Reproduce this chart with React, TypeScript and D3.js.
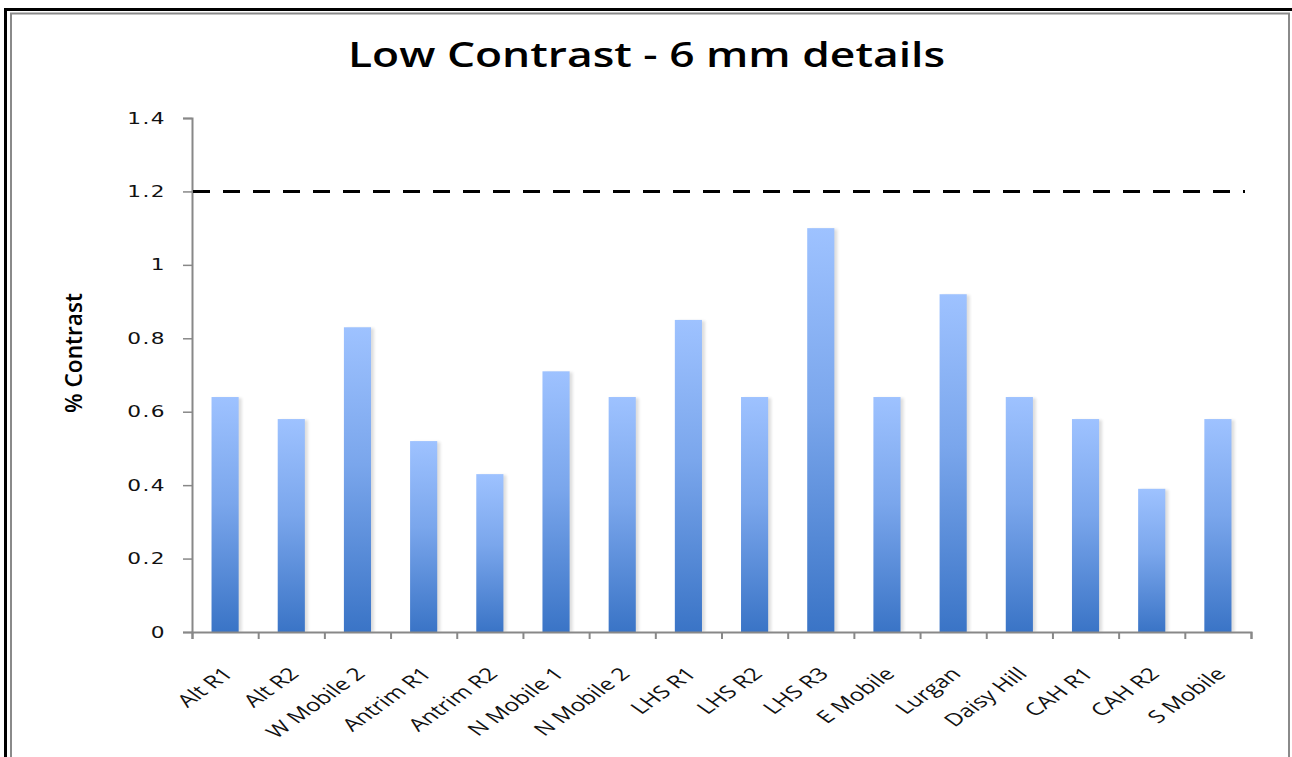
import React, { useEffect, useRef } from "react";
import * as d3 from "d3";

// Sites measured and their low-contrast (6 mm detail) results
const categories: string[] = [
  "Alt R1",
  "Alt R2",
  "W Mobile 2",
  "Antrim R1",
  "Antrim R2",
  "N Mobile 1",
  "N Mobile 2",
  "LHS R1",
  "LHS R2",
  "LHS R3",
  "E Mobile",
  "Lurgan",
  "Daisy Hill",
  "CAH R1",
  "CAH R2",
  "S Mobile",
];

const contrastValues: number[] = [
  0.64, 0.58, 0.83, 0.52, 0.43, 0.71, 0.64, 0.85, 0.64, 1.1, 0.64, 0.92, 0.64, 0.58, 0.39, 0.58,
];

const yTickValues: number[] = [0, 0.2, 0.4, 0.6, 0.8, 1, 1.2, 1.4];
const yTickLabels: string[] = ["0", "0.2", "0.4", "0.6", "0.8", "1", "1.2", "1.4"];

// Tolerance level drawn as a dashed reference line
const thresholdValue = 1.2;

const titleText = "Low Contrast - 6 mm details";
const yAxisTitle = "% Contrast";

const W = 1292;
const H = 757;
const plot = { left: 192, right: 1251, top: 118, bottom: 632 };
const stretchX = 1.4;

export default function App() {
  const ref = useRef<SVGSVGElement | null>(null);

  useEffect(() => {
    const svg = d3.select(ref.current);
    svg.selectAll("*").remove();

    const x = d3
      .scaleBand<string>()
      .domain(categories)
      .range([plot.left, plot.right])
      .paddingInner(0.59)
      .paddingOuter(0.295);
    const y = d3.scaleLinear().domain([0, 1.4]).range([plot.bottom, plot.top]);

    const defs = svg.append("defs");
    const grad = defs
      .append("linearGradient")
      .attr("id", "barGrad")
      .attr("x1", 0)
      .attr("y1", 0)
      .attr("x2", 0)
      .attr("y2", 1);
    grad.append("stop").attr("offset", "0%").attr("stop-color", "#9ec2ff");
    grad.append("stop").attr("offset", "45%").attr("stop-color", "#7aa6ec");
    grad.append("stop").attr("offset", "100%").attr("stop-color", "#3a74c6");

    const blur = defs.append("filter").attr("id", "soft").attr("x", "-50%").attr("y", "-50%").attr("width", "200%").attr("height", "200%");
    blur.append("feGaussianBlur").attr("stdDeviation", 1.4);

    // Frame
    svg.append("rect").attr("x", 0).attr("y", 0).attr("width", W).attr("height", H).attr("fill", "#ffffff");
    svg
      .append("path")
      .attr("d", `M5.5,${H} V9.5 H${W}`)
      .attr("fill", "none")
      .attr("stroke", "#000")
      .attr("stroke-width", 3);
    svg
      .append("path")
      .attr("d", `M11,${H} V13.5 H1289 V${H}`)
      .attr("fill", "none")
      .attr("stroke", "#8a8a8a")
      .attr("stroke-width", 2);

    // Title
    svg
      .append("text")
      .attr("x", 646.5)
      .attr("y", 67)
      .attr("text-anchor", "middle")
      .attr("font-family", "'Open Sans', Lato, sans-serif")
      .attr("font-weight", 600)
      .attr("font-size", 34)
      .attr("textLength", 597)
      .attr("lengthAdjust", "spacingAndGlyphs")
      .attr("fill", "#000")
      .text(titleText);

    // Y axis title
    svg
      .append("text")
      .attr("transform", `translate(82,353) scale(1.25,1) rotate(-90)`)
      .attr("text-anchor", "middle")
      .attr("font-family", "'Open Sans', Lato, sans-serif")
      .attr("font-weight", 600)
      .attr("font-size", 18)
      .attr("textLength", 120)
      .attr("lengthAdjust", "spacingAndGlyphs")
      .attr("fill", "#000")
      .text(yAxisTitle);

    // Bar shadows
    const g = svg.append("g");
    g.selectAll("rect.shadow")
      .data(contrastValues)
      .join("rect")
      .attr("class", "shadow")
      .attr("x", (_, i) => (x(categories[i]) as number) + 3)
      .attr("y", (d) => y(d) + 1)
      .attr("width", x.bandwidth())
      .attr("height", (d) => plot.bottom - y(d) - 1)
      .attr("fill", "#000")
      .attr("opacity", 0.13)
      .attr("filter", "url(#soft)");

    // Bars
    g.selectAll("rect.bar")
      .data(contrastValues)
      .join("rect")
      .attr("class", "bar")
      .attr("x", (_, i) => x(categories[i]) as number)
      .attr("y", (d) => y(d))
      .attr("width", x.bandwidth())
      .attr("height", (d) => plot.bottom - y(d))
      .attr("fill", "url(#barGrad)");

    // Y axis
    const yAxis = d3
      .axisLeft(y)
      .tickValues(yTickValues)
      .tickSize(9)
      .tickPadding(0)
      .tickFormat(() => "");
    const yg = svg.append("g").attr("transform", `translate(${plot.left},0)`).call(yAxis);
    yg.select(".domain").attr("stroke", "#888").attr("stroke-width", 2);
    yg.selectAll(".tick line").attr("stroke", "#888").attr("stroke-width", 1.5);

    svg
      .append("g")
      .selectAll("text")
      .data(yTickValues)
      .join("text")
      .attr("transform", (d) => `translate(166,${y(d)}) scale(${stretchX},1)`)
      .attr("dy", "0.36em")
      .attr("text-anchor", "end")
      .attr("font-family", "'DejaVu Sans', sans-serif")
      .attr("font-size", 15.5)
      .attr("letter-spacing", 1)
      .attr("fill", "#111")
      .text((_, i) => yTickLabels[i]);

    // X axis with ticks at category boundaries
    const step = x.step();
    const boundaries = d3.range(categories.length + 1).map((i) => plot.left + i * step);
    const xLinear = d3.scaleLinear().domain([plot.left, plot.right]).range([plot.left, plot.right]);
    const xAxis = d3
      .axisBottom(xLinear)
      .tickValues(boundaries)
      .tickSize(7)
      .tickFormat(() => "");
    const xg = svg.append("g").attr("transform", `translate(0,${plot.bottom})`).call(xAxis);
    xg.select(".domain").attr("stroke", "#888").attr("stroke-width", 2);
    xg.selectAll(".tick line").attr("stroke", "#888").attr("stroke-width", 2);

    svg
      .append("g")
      .selectAll("text")
      .data(categories)
      .join("text")
      .attr(
        "transform",
        (d) => `translate(${(x(d) as number) + x.bandwidth() / 2 + 9},675) scale(${stretchX},1) rotate(-45)`
      )
      .attr("text-anchor", "end")
      .attr("font-family", "'Open Sans', sans-serif")
      .attr("font-size", 17.5)
      .attr("fill", "#111")
      .text((d) => d);

    // Threshold line with soft shadow
    const ty = y(thresholdValue);
    svg
      .append("line")
      .attr("x1", plot.left + 1)
      .attr("x2", 1245)
      .attr("y1", ty + 3)
      .attr("y2", ty + 3)
      .attr("stroke", "#000")
      .attr("opacity", 0.18)
      .attr("stroke-width", 3)
      .attr("stroke-dasharray", "17,13")
      .attr("filter", "url(#soft)");
    svg
      .append("line")
      .attr("x1", plot.left + 1)
      .attr("x2", 1245)
      .attr("y1", ty)
      .attr("y2", ty)
      .attr("stroke", "#000")
      .attr("stroke-width", 3)
      .attr("stroke-dasharray", "17,13");
  }, []);

  return (
    <svg
      ref={ref}
      width={W}
      height={H}
      style={{ position: "absolute", left: 0, top: 0, display: "block" }}
    />
  );
}
